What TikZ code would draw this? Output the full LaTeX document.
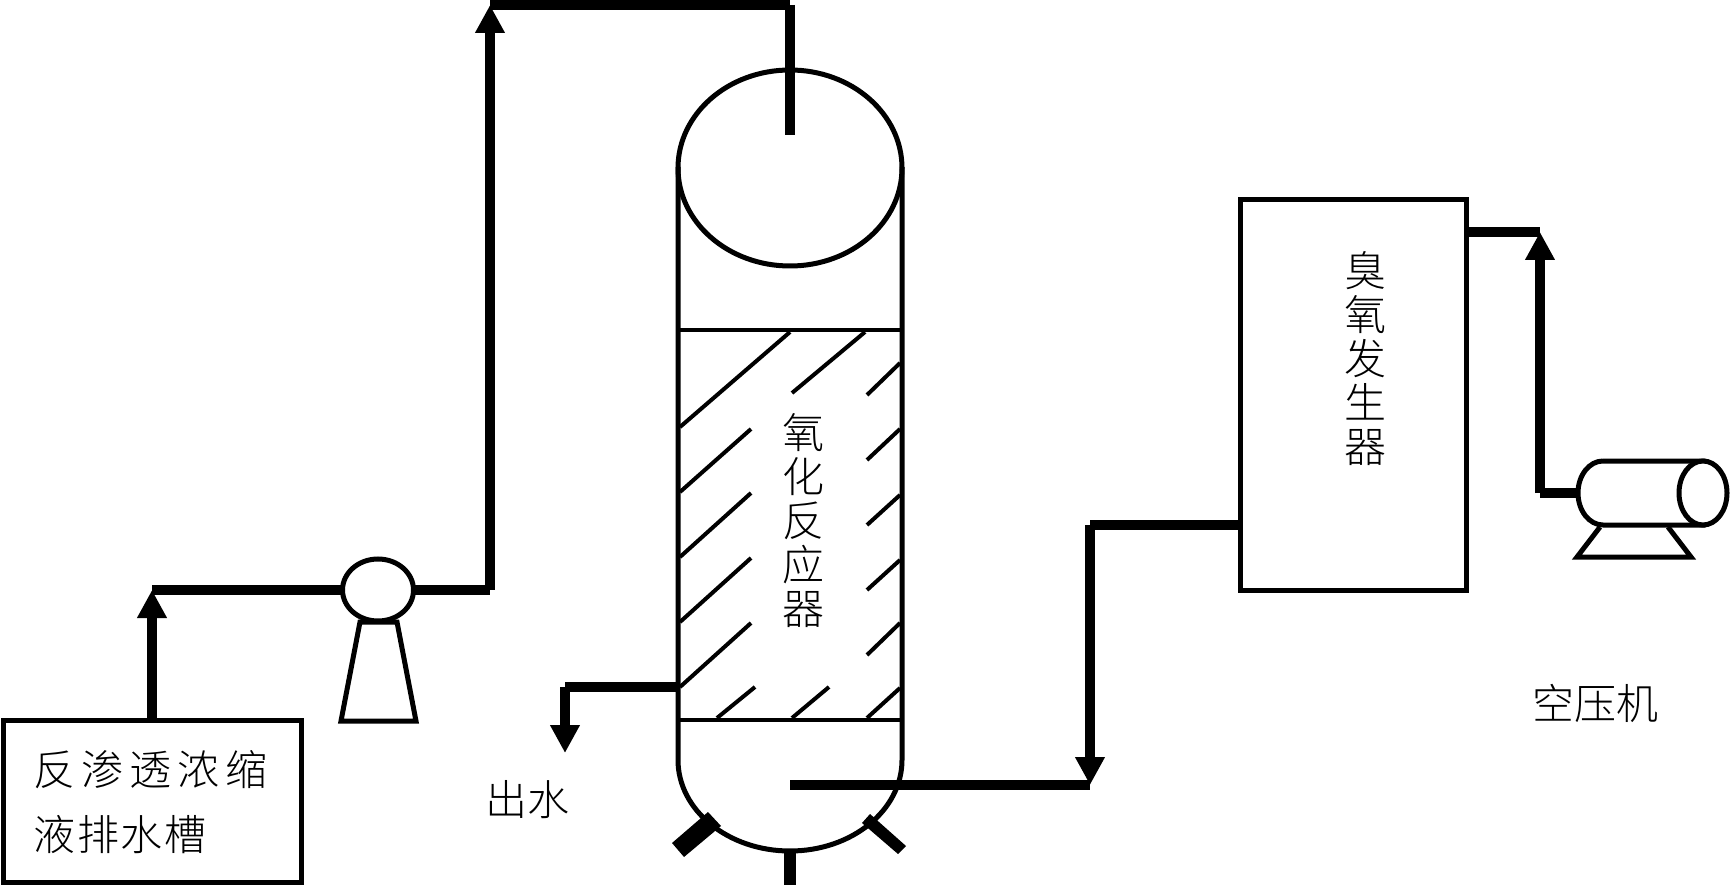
\documentclass[tikz,border=0pt]{standalone}
\usepackage{fontspec}
\newfontfamily\cjk{Noto Sans CJK SC Light}
\usetikzlibrary{arrows.meta,shapes.geometric}
\tikzset{
  x=1pt,y=-1pt,
  vessel/.style={draw=black,line width=5pt,fill=white},
  blob/.style={vessel,ellipse,inner sep=0pt,outer sep=0pt},
  boxy/.style={vessel,rectangle,inner sep=0pt,outer sep=0pt,anchor=north west},
  thinline/.style={draw=black,line width=4pt},
  hatch/.style={draw=black,line width=4pt},
  pipe/.style={draw=black,line width=10pt},
  flow/.style={draw=black,line width=10pt,-{Triangle[length=28pt,width=28pt]}},
  stub/.style={fill=black,draw=none},
  label/.style={font=\cjk\fontsize{42pt}{44pt}\selectfont,inner sep=0pt,outer sep=0pt,align=center},
}
\begin{document}
\begin{tikzpicture}
\useasboundingbox (0,0) rectangle (1730,885);
% reactor
\foreach \a/\b/\c/\d in {680/427/790/332,792/393/865/332,867/395/900/363,
 680/492/751/429,680/557/751/493,680/622/751/558,680/687/751/623,
 867/460/900/429,867/525/900/495,867/590/900/560,867/655/900/623,
 717/718/755/687,792/718/829/687,867/718/900/688}
  \draw[hatch] (\a,\b) -- (\c,\d);
\draw[vessel,fill=none] (678,167) -- (678,760) arc[start angle=180,end angle=360,x radius=112,y radius=-91] -- (902,167);
\node[blob,fill=none,minimum width=224pt,minimum height=196pt] (head) at (790,168) {};
\draw[thinline] (678,330) -- (902,330);
\draw[thinline] (678,720) -- (902,720);
\fill[stub] (672,843) -- (708,812) -- (721,826) -- (684,857) -- cycle;
\fill[stub] (862,823) -- (870,814) -- (906,846) -- (898,854) -- cycle;
\fill[stub] (784,851) rectangle (796,885);
% tank
\node[boxy,minimum width=298pt,minimum height=162pt] (tank) at (3,720) {};
% pump
\draw[vessel,fill=none] (360,622) -- (341,721) -- (416,721) -- (397,622) -- cycle;
\node[blob,minimum width=71pt,minimum height=62pt] (pump) at (378,590) {};
% generator
\node[boxy,minimum width=226pt,minimum height=390pt] (gen) at (1240,200) {};
% compressor
\draw[vessel,fill=none] (1600,527) -- (1577,557) -- (1691,557) -- (1668,527);
\draw[vessel] (1603,461) -- (1703,461) -- (1703,525) -- (1603,525) arc[start angle=270,end angle=90,x radius=25,y radius=-32];
\node[blob,minimum width=48pt,minimum height=64pt] (comp) at (1703,493) {};
\coordinate (compin) at (1578,493);
% pipes
\coordinate (tanktop) at (152,718);
\coordinate (c1) at (152,590);
\coordinate (c2) at (490,590);
\coordinate (c3) at (490,5);
\coordinate (c4) at (790,5);
\coordinate (c5) at (790,135);
\coordinate (o1) at (677,687);
\coordinate (o2) at (565,687);
\coordinate (o3) at (565,753);
\coordinate (r1) at (790,785);
\coordinate (r2) at (1090,785);
\coordinate (r3) at (1090,525);
\coordinate (g1) at (1240,525);
\coordinate (g2) at (1466,232);
\coordinate (g3) at (1540,232);
\coordinate (g4) at (1540,493);
\draw[flow] (tanktop) -- (c1);
\draw[pipe] (c1) -- (pump.west);
\draw[pipe] (pump.east) -- (c2);
\draw[flow] (c2) -- (c3);
\draw[pipe] (c3) -- (c4);
\draw[pipe] (c4) -- (c5);
\draw[pipe] (o1) -- (o2);
\draw[flow] (o2) -- (o3);
\draw[pipe] (r1) -- (r2);
\draw[flow] (r3) -- (r2);
\draw[pipe] (r3) -- (g1);
\draw[flow] (g4) -- (g3);
\draw[pipe] (g2) -- (g3);
\draw[pipe] (g4) -- (compin);
% labels
\node[label] (t1) at (803,521) {氧\\化\\反\\应\\器};
\node[label] (t2) at (1365,359) {臭\\氧\\发\\生\\器};
\node[label,anchor=west] (t3) at (1532,703) {空压机};
\node[label,anchor=west] (t4) at (485,800) {出水};
\node[label,anchor=west] (t5) at (34,770) {反\hspace{6pt}渗\hspace{6pt}透\hspace{6pt}浓\hspace{6pt}缩};
\node[label,anchor=west] (t6) at (34,835) {液\hspace{1.5pt}排\hspace{1.5pt}水\hspace{1.5pt}槽};
\end{tikzpicture}
\end{document}
